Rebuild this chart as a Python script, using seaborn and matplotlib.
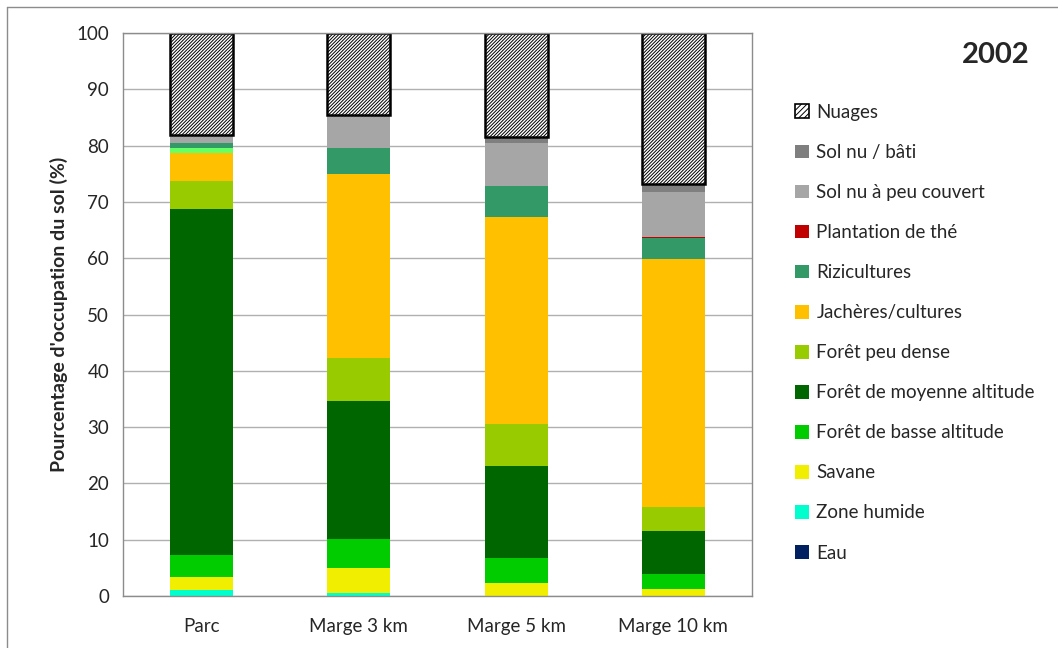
import pandas as pd
import matplotlib
matplotlib.use("Agg")
import matplotlib.pyplot as plt
import seaborn as sns
from matplotlib.patches import Patch
from matplotlib.lines import Line2D

# Zones comparées
zones = ["Parc", "Marge 3 km", "Marge 5 km", "Marge 10 km"]

# Classes d'occupation du sol (haut de la pile -> bas)
classes = [
    "Nuages", "Sol nu / bâti", "Sol nu à peu couvert", "Plantation de thé",
    "Rizicultures", "Autre", "Jachères/cultures", "Forêt peu dense",
    "Forêt de moyenne altitude", "Forêt de basse altitude", "Savane",
    "Zone humide", "Eau",
]
couleurs = [
    "#ffffff", "#7f7f7f", "#a6a6a6", "#c00000",
    "#339966", "#66ff66", "#ffc000", "#99cc00",
    "#006600", "#00cc00", "#f2ee00",
    "#00ffcc", "#002060",
]

# Pourcentages (par classe, pour chaque zone)
nuages = [18.1, 14.5, 18.4, 26.8]
sol_bati = [0.2, 0.3, 1.2, 1.4]
sol_peu_couvert = [1.2, 5.6, 7.6, 8.0]
the = [0.0, 0.0, 0.0, 0.2]
rizicultures = [1.0, 4.7, 5.5, 3.7]
autre = [0.8, 0.0, 0.0, 0.0]
jacheres = [5.0, 32.6, 36.7, 44.1]
foret_peu_dense = [4.9, 7.7, 7.5, 4.3]
foret_moyenne = [61.6, 24.4, 16.3, 7.6]
foret_basse = [3.9, 5.3, 4.5, 2.6]
savane = [2.3, 4.4, 2.3, 1.3]
zone_humide = [1.0, 0.5, 0.0, 0.0]
eau = [0.0, 0.0, 0.0, 0.0]

valeurs = [nuages, sol_bati, sol_peu_couvert, the, rizicultures, autre,
           jacheres, foret_peu_dense, foret_moyenne, foret_basse, savane,
           zone_humide, eau]

rows = []
for classe, serie in zip(classes, valeurs):
    for zone, v in zip(zones, serie):
        rows.append({"zone": zone, "classe": classe, "pct": v})
df = pd.DataFrame(rows)

sns.set_style("white")
plt.rcParams["font.family"] = ["Lato", "DejaVu Sans"]
plt.rcParams["hatch.linewidth"] = 0.7

fig = plt.figure(figsize=(10.58, 6.48), dpi=100)
ax = fig.add_axes([123 / 1058, 52 / 648, 629 / 1058, 563 / 648])

sns.histplot(
    data=df, x="zone", weights="pct", hue="classe", hue_order=classes,
    palette=couleurs, multiple="stack", discrete=True, shrink=0.4,
    linewidth=0, alpha=1, legend=False, ax=ax, zorder=2,
)

# Hachures pour les nuages
for p in ax.patches:
    if p.get_facecolor()[:3] == (1.0, 1.0, 1.0) and p.get_height() > 5:
        p.set_hatch("//////////")
        p.set_edgecolor("black")
        p.set_linewidth(1.8)

ax.set_ylim(0, 100)
ax.set_xlim(-0.5, 3.5)
ax.set_yticks(range(0, 101, 10))
ax.yaxis.grid(True, color="#b0b0b0", linewidth=1, zorder=0)
ax.set_axisbelow(True)

n = len(zones)
ax.set_xticks([-0.5, 0.5, 1.5, 2.5, 3.5])
ax.set_xticklabels([])
ax.set_xticks(range(n), minor=True)
ax.set_xticklabels(zones, minor=True, fontsize=13.5)
ax.tick_params(axis="x", which="major", length=6, color="#8c8c8c", width=1)
ax.tick_params(axis="x", which="minor", length=0, pad=16)
ax.tick_params(axis="y", length=6, color="#8c8c8c", labelsize=13.5, pad=4)
ax.set_xlabel("")
ax.set_ylabel("Pourcentage d'occupation du sol (%)", fontsize=14,
              fontweight="bold", labelpad=6)

for s in ax.spines.values():
    s.set_visible(True)
    s.set_color("#8c8c8c")
    s.set_linewidth(1)

fig.text(1030 / 1058, 1 - 55 / 648, "2002", fontsize=21, fontweight="bold",
         ha="right", va="center")

# Légende construite à la main (sans la classe "Autre")
handles = []
for c, col in zip(classes, couleurs):
    if c == "Autre":
        continue
    if c == "Nuages":
        handles.append(Patch(facecolor="white", edgecolor="black",
                             hatch="//////", linewidth=1.2, label=c))
    else:
        handles.append(Patch(facecolor=col, edgecolor="none", label=c))
fig.legend(handles=handles, loc="upper left",
           bbox_to_anchor=(778 / 1058, 1 - 87 / 648), frameon=False,
           fontsize=13.5, labelspacing=1.23, handlelength=0.75,
           handleheight=0.75, handletextpad=0.4)

# Cadre extérieur (bords gauche et haut)
fig.add_artist(Line2D([7 / 1058, 7 / 1058], [0, 1 - 7 / 648],
                      transform=fig.transFigure, color="#8c8c8c", lw=1))
fig.add_artist(Line2D([7 / 1058, 1], [1 - 7 / 648, 1 - 7 / 648],
                      transform=fig.transFigure, color="#8c8c8c", lw=1))

fig.savefig("out.png", dpi=100)
